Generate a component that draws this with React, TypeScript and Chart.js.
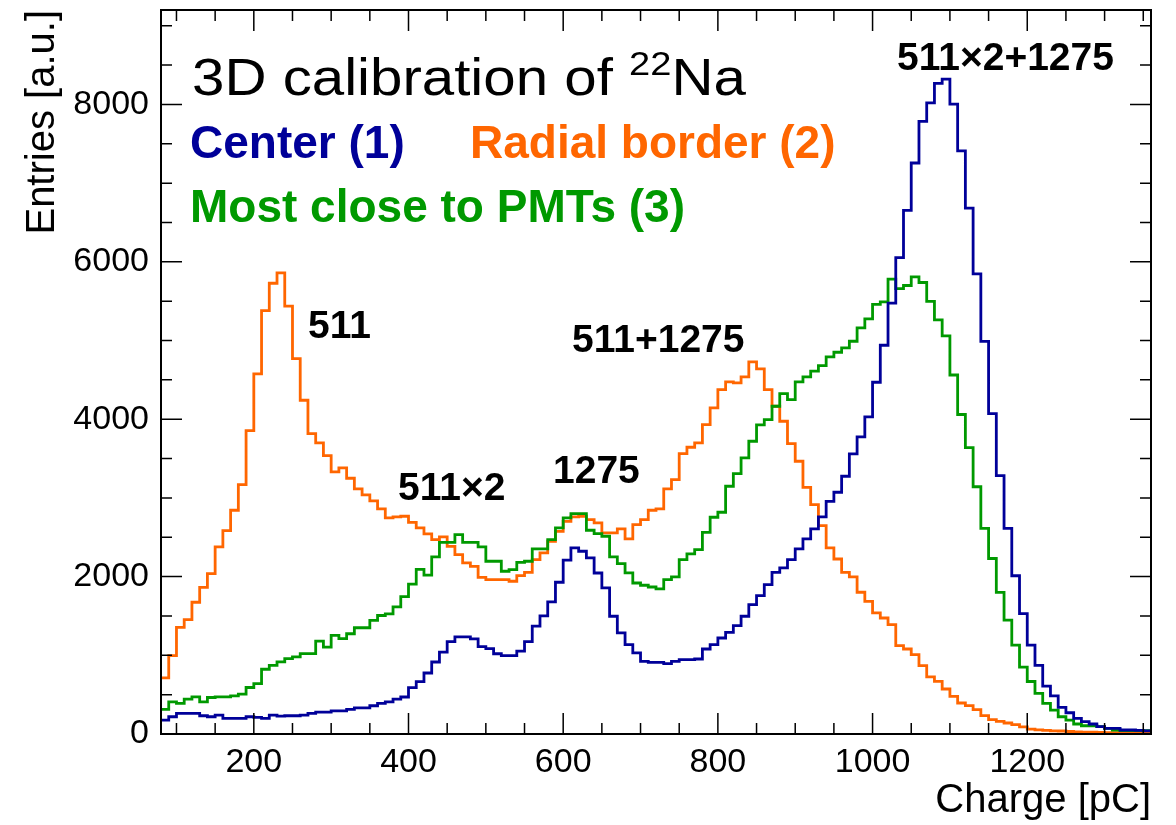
import React, { useEffect, useRef } from "react";
import { Chart, registerables } from "chart.js";

Chart.register(...registerables);

// Lower edges of the 10 pC bins (last bin ends at X_MAX)
const BIN_EDGES = [
  80, 90, 100, 110, 120, 130, 140, 150, 160, 170, 180, 190, 200, 210, 220, 230,
  240, 250, 260, 270, 280, 290, 300, 310, 320, 330, 340, 350, 360, 370, 380, 390,
  400, 410, 420, 430, 440, 450, 460, 470, 480, 490, 500, 510, 520, 530, 540, 550,
  560, 570, 580, 590, 600, 610, 620, 630, 640, 650, 660, 670, 680, 690, 700, 710,
  720, 730, 740, 750, 760, 770, 780, 790, 800, 810, 820, 830, 840, 850, 860, 870,
  880, 890, 900, 910, 920, 930, 940, 950, 960, 970, 980, 990, 1000, 1010, 1020, 1030,
  1040, 1050, 1060, 1070, 1080, 1090, 1100, 1110, 1120, 1130, 1140, 1150, 1160, 1170, 1180, 1190,
  1200, 1210, 1220, 1230, 1240, 1250, 1260, 1270, 1280, 1290, 1300, 1310, 1320, 1330, 1340, 1350,
];
const X_MIN = 80;
const X_MAX = 1360;
const Y_MAX = 9200;

// Center (1)
const CENTER = [
  177, 219, 262, 262, 262, 232, 219, 241, 198, 198, 198, 219, 211, 198, 241, 228,
  232, 232, 241, 262, 278, 278, 295, 295, 312, 333, 333, 359, 388, 409, 443, 470,
  590, 665, 775, 915, 1040, 1175, 1235, 1235, 1210, 1110, 1085, 1020, 995, 995, 1053, 1175,
  1372, 1500, 1680, 1928, 2210, 2364, 2322, 2237, 2046, 1856, 1496, 1284, 1136, 1030, 924, 911,
  911, 894, 924, 945, 945, 953, 1080, 1136, 1220, 1292, 1377, 1496, 1644, 1758, 1898, 2055,
  2110, 2216, 2352, 2479, 2606, 2758, 2957, 3072, 3275, 3559, 3775, 4029, 4470, 4940, 5475, 6054,
  6655, 7256, 7786, 8021, 8267, 8322, 8005, 7409, 6683, 5846, 4989, 4071, 3284, 2612, 2011, 1530,
  1130, 873, 608, 485, 338, 270, 198, 156, 127, 93, 72, 72, 51, 51, 45, 40,
];

// Radial border (2)
const RADIAL = [
  712, 996, 1356, 1453, 1674, 1864, 2038, 2377, 2585, 2843, 3169, 3856, 4576, 5381, 5728, 5860,
  5436, 4771, 4241, 3818, 3699, 3538, 3330, 3381, 3250, 3114, 3038, 2962, 2860, 2746, 2758, 2767,
  2690, 2618, 2542, 2470, 2504, 2385, 2280, 2174, 2131, 1991, 1962, 1962, 1962, 1941, 2013, 2055,
  2216, 2301, 2449, 2576, 2703, 2758, 2767, 2724, 2682, 2555, 2555, 2606, 2479, 2661, 2724, 2843,
  2860, 3114, 3233, 3563, 3644, 3699, 3932, 4144, 4377, 4474, 4462, 4538, 4728, 4640, 4377, 4165,
  3974, 3690, 3466, 3135, 2915, 2648, 2364, 2224, 2055, 1996, 1801, 1686, 1538, 1474, 1390, 1123,
  1080, 1008, 869, 725, 669, 572, 479, 394, 360, 309, 233, 182, 161, 140, 119, 90,
  62, 52, 45, 40, 38, 32, 28, 25, 22, 20, 18, 16, 15, 14, 13, 12,
];

// Most close to PMTs (3)
const PMT = [
  312, 409, 388, 443, 473, 409, 464, 473, 473, 485, 506, 591, 641, 823, 873, 916,
  958, 979, 1021, 1021, 1181, 1105, 1253, 1211, 1274, 1350, 1350, 1443, 1506, 1527, 1615, 1745,
  1905, 2092, 2020, 2252, 2436, 2436, 2534, 2436, 2436, 2377, 2195, 2195, 2068, 2089, 2182, 2195,
  2352, 2352, 2470, 2618, 2746, 2800, 2800, 2589, 2546, 2513, 2250, 2165, 2047, 1919, 1890, 1868,
  1843, 1962, 1996, 2216, 2288, 2343, 2563, 2754, 2818, 3148, 3309, 3508, 3720, 3928, 3995, 4165,
  4326, 4250, 4474, 4538, 4610, 4680, 4792, 4851, 4906, 4991, 5161, 5276, 5460, 5490, 5780, 5660,
  5699, 5808, 5737, 5497, 5262, 5060, 4562, 4060, 3639, 3142, 2612, 2230, 1800, 1448, 1130, 850,
  667, 515, 388, 304, 219, 177, 127, 105, 105, 93, 72, 51, 42, 42, 42, 42,
];

const X_TICKS_MAJOR = [200, 400, 600, 800, 1000, 1200];
const Y_TICKS_MAJOR = [0, 2000, 4000, 6000, 8000];
const X_MINOR_STEP = 50;
const Y_MINOR_STEP = 500;

const PEAK_LABELS = [
  { text: "511", x: 308, y: 338 },
  { text: "511\u00d72", x: 398, y: 500 },
  { text: "1275", x: 553, y: 483 },
  { text: "511+1275", x: 572, y: 352 },
  { text: "511\u00d72+1275", x: 897, y: 70 },
];

const BLUE = "#000099";
const ORANGE = "#ff6600";
const GREEN = "#009900";
const FONT = '"Liberation Sans", Arial, Helvetica, sans-serif';

function toSteps(values: number[]) {
  const pts = values.map((v, i) => ({ x: BIN_EDGES[i], y: v }));
  pts.push({ x: X_MAX, y: values[values.length - 1] });
  return pts;
}

const decorPlugin = {
  id: "rootDecor",
  afterDraw(chart: any) {
    const { ctx, chartArea } = chart;
    const xs = chart.scales.x;
    const ys = chart.scales.y;
    const { left, right, top, bottom } = chartArea;
    ctx.save();
    ctx.strokeStyle = "#000";
    ctx.lineWidth = 2;
    ctx.strokeRect(left, top, right - left, bottom - top);

    // ticks drawn inside the frame on all four sides
    ctx.lineWidth = 1.5;
    ctx.beginPath();
    for (let v = 100; v < X_MAX; v += X_MINOR_STEP) {
      const px = xs.getPixelForValue(v);
      const len = X_TICKS_MAJOR.includes(v) ? 21 : 11;
      ctx.moveTo(px, bottom);
      ctx.lineTo(px, bottom - len);
      ctx.moveTo(px, top);
      ctx.lineTo(px, top + len);
    }
    for (let v = Y_MINOR_STEP; v < Y_MAX; v += Y_MINOR_STEP) {
      const py = ys.getPixelForValue(v);
      const len = Y_TICKS_MAJOR.includes(v) ? 21 : 11;
      ctx.moveTo(left, py);
      ctx.lineTo(left + len, py);
      ctx.moveTo(right, py);
      ctx.lineTo(right - len, py);
    }
    ctx.stroke();

    // axis titles
    ctx.fillStyle = "#000";
    ctx.font = `40px ${FONT}`;
    ctx.textAlign = "right";
    ctx.textBaseline = "alphabetic";
    ctx.fillText("Charge [pC]", right, 812);
    ctx.save();
    ctx.translate(54, top);
    ctx.rotate(-Math.PI / 2);
    ctx.textAlign = "right";
    ctx.fillText("Entries [a.u.]", 0, 0);
    ctx.restore();

    // title with superscript (slightly wide lettering as in the original)
    ctx.save();
    ctx.translate(192, 95);
    ctx.scale(1.12, 1);
    ctx.textAlign = "left";
    ctx.font = `52px ${FONT}`;
    let tx = 0;
    ctx.fillText("3D calibration of ", tx, 0);
    tx += ctx.measureText("3D calibration of ").width;
    ctx.font = `34px ${FONT}`;
    ctx.fillText("22", tx, -20);
    tx += ctx.measureText("22").width;
    ctx.font = `52px ${FONT}`;
    ctx.fillText("Na", tx, 0);
    ctx.restore();

    // legend texts
    ctx.textAlign = "left";
    ctx.font = `bold 46px ${FONT}`;
    ctx.fillStyle = BLUE;
    ctx.fillText("Center (1)", 190, 158);
    ctx.fillStyle = ORANGE;
    ctx.fillText("Radial border (2)", 470, 158);
    ctx.fillStyle = GREEN;
    ctx.fillText("Most close to PMTs (3)", 190, 222);

    // peak labels
    ctx.fillStyle = "#000";
    ctx.font = `bold 39px ${FONT}`;
    for (const p of PEAK_LABELS) ctx.fillText(p.text, p.x, p.y);
    ctx.restore();
  },
};

export default function App() {
  const ref = useRef<HTMLCanvasElement | null>(null);
  useEffect(() => {
    if (!ref.current) return;
    const mk = (label: string, values: number[], color: string) => ({
      label,
      data: toSteps(values),
      borderColor: color,
      backgroundColor: color,
      borderWidth: 2.8,
      pointRadius: 0,
      fill: false,
      stepped: "before" as const,
      tension: 0,
    });
    const chart = new Chart(ref.current, {
      type: "line",
      data: {
        datasets: [
          mk("Center (1)", CENTER, BLUE),
          mk("Most close to PMTs (3)", PMT, GREEN),
          mk("Radial border (2)", RADIAL, ORANGE),
        ],
      },
      options: {
        animation: false,
        responsive: false,
        maintainAspectRatio: false,
        layout: { padding: { top: 10, right: 25, left: 0, bottom: 0 } },
        plugins: { legend: { display: false }, tooltip: { enabled: false } },
        scales: {
          x: {
            type: "linear",
            min: X_MIN,
            max: X_MAX,
            grid: { display: false, drawTicks: false },
            border: { display: false },
            afterBuildTicks: (s: any) => {
              s.ticks = X_TICKS_MAJOR.map((v) => ({ value: v }));
            },
            ticks: {
              maxRotation: 0,
              autoSkip: false,
              padding: 8,
              color: "#000",
              font: { family: FONT, size: 34 },
              callback: (v: any) => String(v),
            },
            afterFit: (s: any) => {
              s.height = 91;
              s.paddingLeft = 0;
              s.paddingRight = 0;
              s.paddingTop = 0;
              s.paddingBottom = 0;
            },
          },
          y: {
            type: "linear",
            min: 0,
            max: Y_MAX,
            grid: { display: false, drawTicks: false },
            border: { display: false },
            afterBuildTicks: (s: any) => {
              s.ticks = Y_TICKS_MAJOR.map((v) => ({ value: v }));
            },
            ticks: {
              autoSkip: false,
              padding: 12,
              color: "#000",
              font: { family: FONT, size: 34 },
              callback: (v: any) => String(v),
            },
            afterFit: (s: any) => {
              s.width = 161;
              s.paddingLeft = 0;
              s.paddingRight = 0;
              s.paddingTop = 0;
              s.paddingBottom = 0;
            },
          },
        },
      },
      plugins: [decorPlugin],
    });
    return () => chart.destroy();
  }, []);
  return (
    <div style={{ position: "fixed", left: 0, top: 0, width: 1176, height: 825, background: "#fff" }}>
      <canvas ref={ref} width={1176} height={825} style={{ display: "block" }} />
    </div>
  );
}
